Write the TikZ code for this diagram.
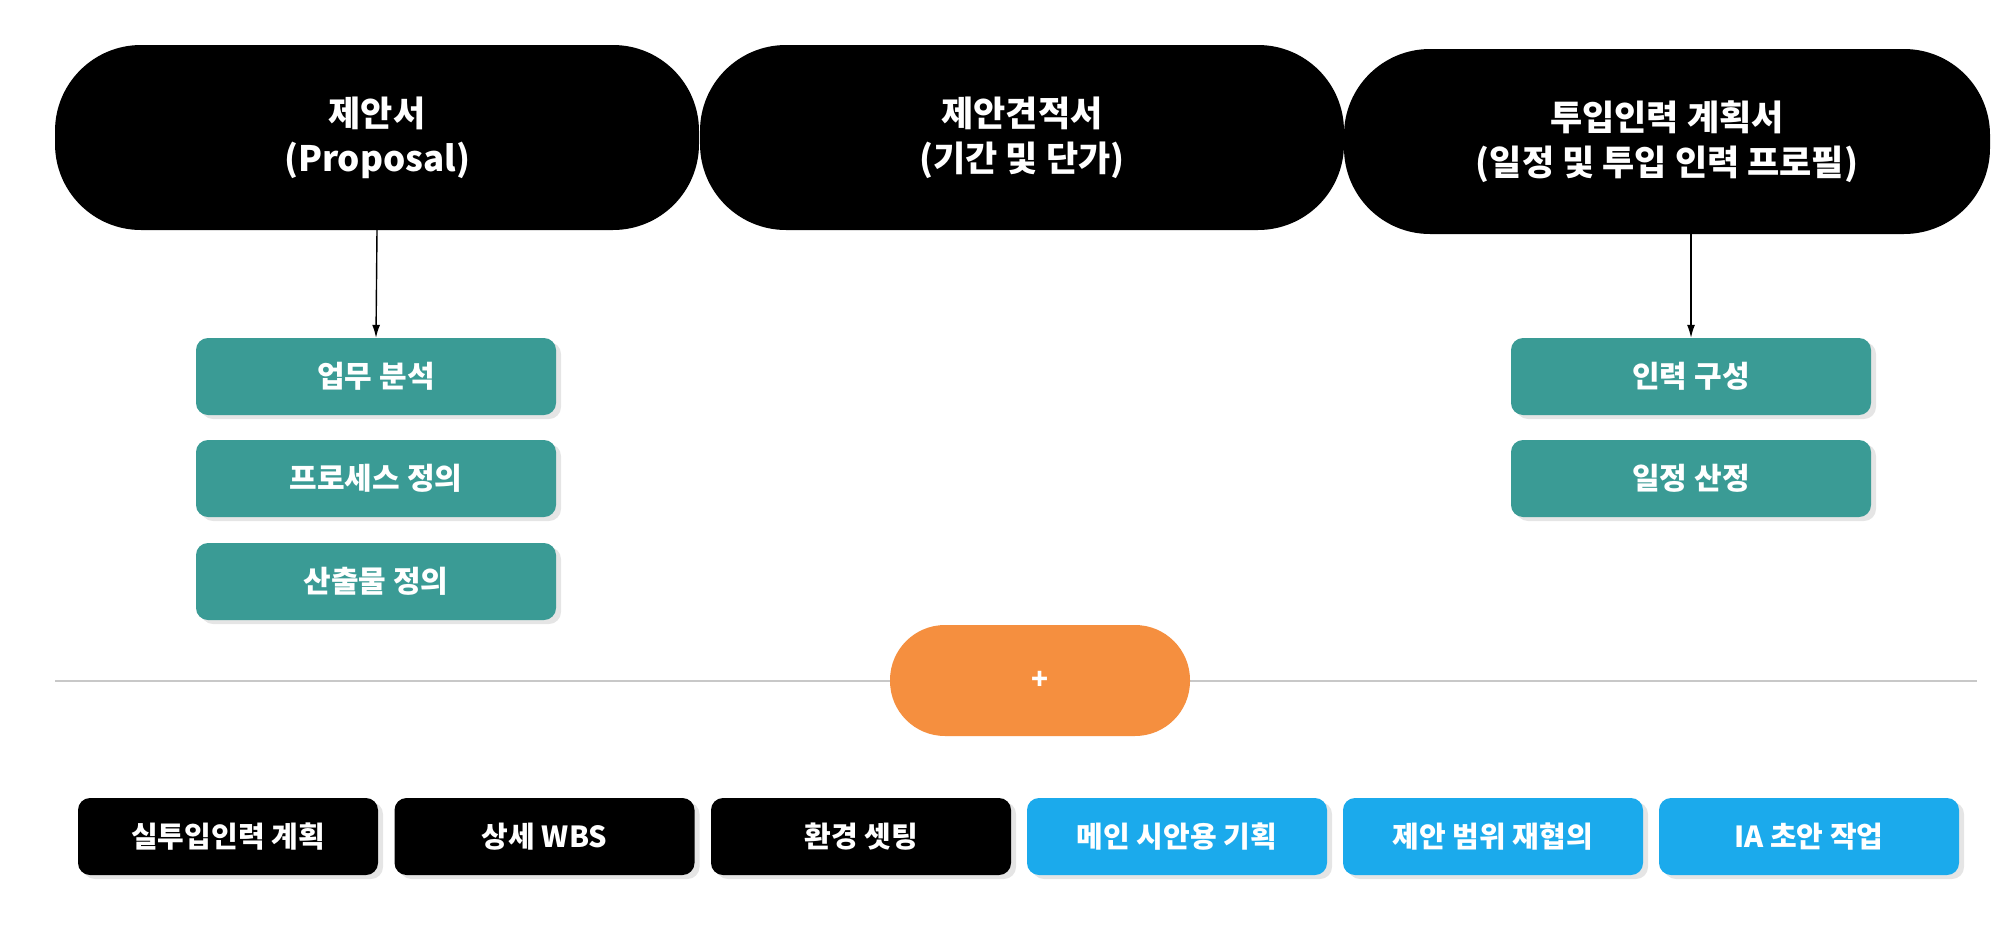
\documentclass[tikz,border=0pt]{standalone}
\usepackage{fontspec}
\setmainfont{Noto Sans CJK KR}
\usetikzlibrary{shadows,arrows.meta}
\definecolor{tealc}{HTML}{3A9B95}
\definecolor{orangec}{HTML}{F58F3F}
\definecolor{bluec}{HTML}{1BAAEC}
\definecolor{linec}{HTML}{C8C8C8}
\begin{document}
\begin{tikzpicture}[x=1pt,y=-1pt,
  pill/.style={fill=black, text=white, rounded corners=86pt, minimum width=644pt, minimum height=185pt,
    align=center, inner sep=0pt, font=\fontsize{35}{45}\selectfont\bfseries},
  shad/.style={drop shadow={shadow xshift=5pt, shadow yshift=-4pt, opacity=0.10, fill=black}},
  tealbox/.style={fill=tealc, text=white, rounded corners=12pt, minimum width=360pt, minimum height=77pt,
    inner sep=0pt, font=\fontsize{30}{36}\selectfont\bfseries, shad},
  blackbox/.style={fill=black, text=white, rounded corners=12pt, minimum width=300pt, minimum height=77pt,
    inner sep=0pt, font=\fontsize{29}{35}\selectfont\bfseries, shad},
  bluebox/.style={blackbox, fill=bluec},
  plusbox/.style={fill=orangec, text=white, rounded corners=55pt, minimum width=300pt, minimum height=111pt,
    inner sep=0pt, font=\fontsize{28}{34}\selectfont\bfseries},
  arr/.style={draw=black, line width=1.4pt, -{Latex[length=13pt,width=8pt]}}
]
\useasboundingbox (0,0) rectangle (2014,924);
\fill[white] (0,0) rectangle (2014,924);

% top pills
\node[pill] (p1) at (377,137.5) {제안서\\(Proposal)};
\node[pill] (p2) at (1022,137.5) {제안견적서\\(기간 및 단가)};
\node[pill, minimum width=646pt] (p3) at (1667,141.5) {투입인력 계획서\\(일정 및 투입 인력 프로필)};

% teal boxes left
\node[tealbox] (t1) at (376,376.5) {업무 분석};
\node[tealbox] (t2) at (376,478.5) {프로세스 정의};
\node[tealbox] (t3) at (376,581.5) {산출물 정의};

% teal boxes right
\node[tealbox] (r1) at (1691,376.5) {인력 구성};
\node[tealbox] (r2) at (1691,478.5) {일정 산정};

% arrows
\draw[arr] (p1.south) -- (t1.north);
\draw[arr] (p3.south -| r1.north) -- (r1.north);

% separator line and plus
\coordinate (la) at (55,681);
\coordinate (lb) at (1977,681);
\draw[linec, line width=2pt] (la) -- (lb);
\node[plusbox] (plus) at (1040,680.5) {+};

% bottom boxes
\node[blackbox] (b1) at (228,836.5) {실투입인력 계획};
\node[blackbox] (b2) at (544.5,836.5) {상세 WBS};
\node[blackbox] (b3) at (861,836.5) {환경 셋팅};
\node[bluebox] (b4) at (1177,836.5) {메인 시안용 기획};
\node[bluebox] (b5) at (1493,836.5) {제안 범위 재협의};
\node[bluebox] (b6) at (1809,836.5) {IA 초안 작업};
\end{tikzpicture}
\end{document}
